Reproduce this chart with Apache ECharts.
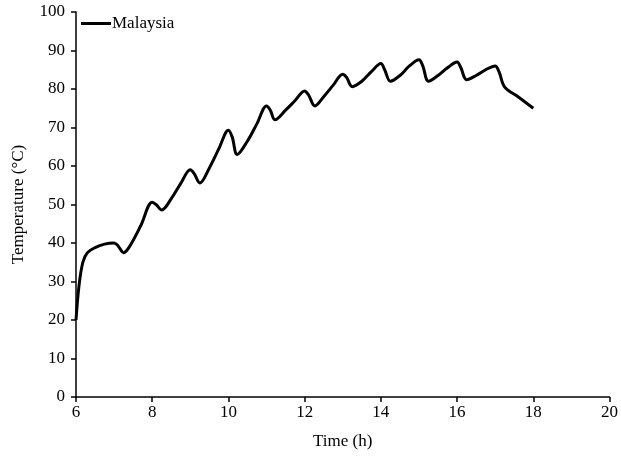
<!DOCTYPE html>
<html><head><meta charset="utf-8">
<script src="https://cdn.jsdelivr.net/npm/echarts@6/dist/echarts.min.js"></script>
<style>html,body{margin:0;padding:0;background:#fff}#c{width:621px;height:462px}</style>
</head><body><div id="c"></div>
<script>
const seriesName = "Malaysia";
const times = [6.0, 6.08, 6.18, 6.3, 6.5, 6.75, 7.0, 7.1, 7.25, 7.4, 7.7, 8.0, 8.1, 8.25, 8.5, 8.75, 9.0, 9.1, 9.25, 9.5, 9.75, 10.0, 10.1, 10.23, 10.5, 10.75, 11.0, 11.1, 11.22, 11.5, 11.75, 12.0, 12.1, 12.27, 12.5, 12.75, 13.0, 13.1, 13.25, 13.5, 13.75, 14.0, 14.1, 14.25, 14.5, 14.75, 15.0, 15.1, 15.25, 15.5, 15.75, 16.0, 16.1, 16.25, 16.5, 16.75, 17.0, 17.1, 17.25, 17.6, 18.0];
const temps = [20, 29, 35, 37.5, 38.8, 39.7, 40, 39.3, 37.5, 39, 44.5, 50.6, 50, 48.6, 51.5, 55.5, 59, 58, 55.6, 59.5, 64.5, 69.3, 67.5, 63, 66.5, 71, 75.6, 74.5, 72, 74.5, 77, 79.5, 78.5, 75.6, 78, 81, 83.8, 83, 80.6, 82, 84.5, 86.6, 85, 82, 83.5, 86, 87.6, 86, 82, 83.5, 85.5, 87, 85.5, 82.4, 83.5, 85, 86, 84.5, 80.5, 78, 75];
const xTicks = [6, 8, 10, 12, 14, 16, 18, 20];
const yTicks = [0, 10, 20, 30, 40, 50, 60, 70, 80, 90, 100];

const font = "'Liberation Serif', 'Times New Roman', serif";
const fs = 17;
const chart = echarts.init(document.getElementById('c'), null, {renderer: 'canvas'});
chart.setOption({
  animation: false,
  grid: {left: 76, right: 9, top: 12, bottom: 65, containLabel: false},
  legend: {
    left: 76, top: 10, icon: 'rect', itemWidth: 30, itemHeight: 3, itemGap: 0,
    textStyle: {fontFamily: font, fontSize: fs, color: '#000', padding: [0,0,0,-4]},
    data: [seriesName]
  },
  xAxis: {
    type: 'value', min: xTicks[0], max: xTicks[xTicks.length-1], interval: 2,
    name: 'Time (h)', nameLocation: 'middle', nameGap: 36,
    nameTextStyle: {fontFamily: font, fontSize: fs, color: '#000'},
    axisLine: {lineStyle: {color: '#000', width: 1.5}},
    axisTick: {lineStyle: {color: '#000', width: 1.5}, length: 5},
    axisLabel: {fontFamily: font, fontSize: fs, color: '#000', margin: 7},
    splitLine: {show: false}
  },
  yAxis: {
    type: 'value', min: yTicks[0], max: yTicks[yTicks.length-1], interval: 10,
    name: 'Temperature (°C)', nameLocation: 'middle', nameGap: 49,
    nameTextStyle: {fontFamily: font, fontSize: fs, color: '#000'},
    axisLine: {show: true, lineStyle: {color: '#000', width: 1.5}},
    axisTick: {show: true, lineStyle: {color: '#000', width: 1.5}, length: 5},
    axisLabel: {fontFamily: font, fontSize: fs, color: '#000', margin: 11},
    splitLine: {show: false}
  },
  series: [{
    name: seriesName, type: 'line', smooth: 0.35, showSymbol: false, symbol: 'none',
    lineStyle: {color: '#000', width: 3},
    itemStyle: {color: '#000'},
    data: times.map((t, i) => [t, temps[i]])
  }]
});
</script></body></html>
